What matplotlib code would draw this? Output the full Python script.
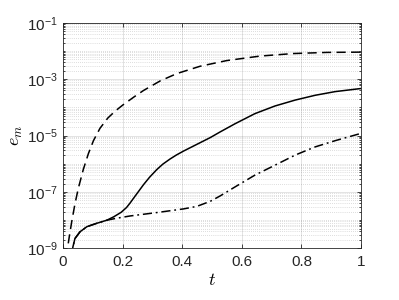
import numpy as np
import matplotlib
matplotlib.use('Agg')
import matplotlib.pyplot as plt
from matplotlib.ticker import LogLocator, FixedLocator, FuncFormatter, NullFormatter

plt.rcParams['font.family'] = ['Liberation Sans', 'DejaVu Sans']
plt.rcParams['mathtext.fontset'] = 'custom'
plt.rcParams['mathtext.rm'] = 'Liberation Sans'
plt.rcParams['mathtext.it'] = 'Liberation Sans:italic'

# dashed curve (log10 of e_m)
t_dash = [0.0, 0.006, 0.012, 0.015, 0.021, 0.029, 0.040, 0.051, 0.068, 0.085, 0.102,
          0.124, 0.150, 0.175, 0.200, 0.238, 0.270, 0.326, 0.382, 0.460,
          0.549, 0.661, 0.773, 0.885, 1.0]
log_dash = [-8.85, -9.6, -9.4, -9.0, -8.58, -8.06, -7.42, -6.88, -6.20, -5.64, -5.18,
            -4.74, -4.38, -4.13, -3.92, -3.63, -3.40, -3.06, -2.80, -2.54,
            -2.34, -2.18, -2.09, -2.05, -2.04]

# solid curve
t_solid = [0.028, 0.033, 0.040, 0.057, 0.080, 0.113, 0.147, 0.170, 0.195, 0.213, 0.225,
           0.238, 0.270, 0.290, 0.314, 0.335, 0.359, 0.380, 0.404, 0.449, 0.494,
           0.527, 0.577, 0.644, 0.711, 0.779, 0.846, 0.913, 1.0]
log_solid = [-9.3, -8.95, -8.65, -8.41, -8.23, -8.11, -8.0, -7.88, -7.72, -7.55, -7.39,
             -7.2, -6.74, -6.48, -6.21, -6.01, -5.83, -5.69, -5.55, -5.31, -5.07,
             -4.87, -4.58, -4.22, -3.95, -3.74, -3.57, -3.44, -3.33]

# dash-dot curve
t_dd = [0.028, 0.033, 0.040, 0.057, 0.080, 0.113, 0.147, 0.180, 0.225, 0.314,
        0.404, 0.449, 0.494, 0.527, 0.577, 0.644, 0.711, 0.779, 0.846, 0.913, 1.0]
log_dd = [-9.3, -8.95, -8.65, -8.41, -8.23, -8.11, -8.0, -7.93, -7.85, -7.73,
          -7.60, -7.51, -7.33, -7.14, -6.82, -6.40, -6.05, -5.69, -5.40, -5.18, -4.92]

x_ticks = [0, 0.2, 0.4, 0.6, 0.8, 1]
y_ticks = [1e-9, 1e-7, 1e-5, 1e-3, 1e-1]

fig = plt.figure(figsize=(3.99, 3.0), dpi=100)
ax = fig.add_axes([0.158, 0.172, 0.747, 0.752])

ax.semilogy(t_dash, 10.0 ** np.array(log_dash), color='k', lw=1.1, ls=(0, (6, 3.5)))
ax.semilogy(t_solid, 10.0 ** np.array(log_solid), color='k', lw=1.1, ls='-')
ax.semilogy(t_dd, 10.0 ** np.array(log_dd), color='k', lw=1.1, ls=(0, (6, 2.5, 1.2, 2.5)))

ax.set_xlim(0, 1)
ax.set_ylim(1e-9, 1e-1)
ax.xaxis.set_major_locator(FixedLocator(x_ticks))
ax.xaxis.set_major_formatter(FuncFormatter(lambda v, p: '%g' % v))
ax.yaxis.set_major_locator(FixedLocator(y_ticks))
ax.yaxis.set_minor_locator(LogLocator(base=10, subs=np.arange(1, 10), numticks=100))
ax.yaxis.set_minor_formatter(NullFormatter())
ax.yaxis.set_major_formatter(FuncFormatter(lambda v, p: r'$\mathregular{10^{%d}}$' % round(np.log10(v))))

gc = (0.15, 0.15, 0.15)
ax.grid(True, which='major', color=gc, alpha=0.15, lw=0.6)
ax.grid(True, which='minor', axis='y', color=gc, alpha=0.3, lw=0.5, ls=(0, (1, 2)))

for s in ax.spines.values():
    s.set_color(gc)
    s.set_linewidth(0.6)
ax.tick_params(which='both', direction='in', top=True, right=True, color=gc,
               labelcolor=gc, labelsize=11, width=0.6)
ax.tick_params(which='major', length=3)
ax.tick_params(which='minor', length=1.5)
ax.tick_params(axis='x', pad=5)

ax.set_xlabel('$t$', fontsize=13, math_fontfamily='cm', color='k', labelpad=2)
ax.set_ylabel('$e_m$', fontsize=13, math_fontfamily='cm', color='k', labelpad=2)

fig.savefig('out.png', dpi=100)
